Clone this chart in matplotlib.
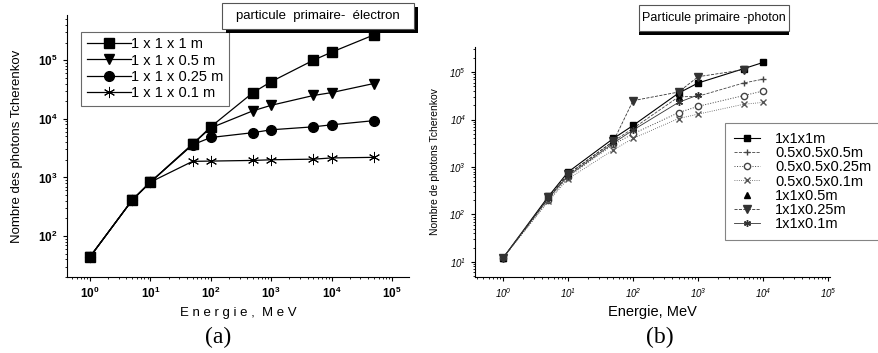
import matplotlib.pyplot as plt
from matplotlib.patches import Rectangle
from matplotlib.ticker import LogLocator, NullFormatter

plt.rcParams["font.family"] = ["Liberation Sans", "DejaVu Sans"]
plt.rcParams["mathtext.fontset"] = "custom"
plt.rcParams["mathtext.rm"] = "Liberation Sans"
plt.rcParams["mathtext.it"] = "Liberation Sans:italic"
plt.rcParams["mathtext.bf"] = "Liberation Sans:bold"

# (a) primary particle: electron
energy_a = [1, 5, 10, 50, 100, 500, 1000, 5000, 10000, 50000]
e_1x1x1 = [44, 410, 830, 3700, 7300, 28000, 43000, 100000, 137000, 270000]
e_1x1x05 = [44, 410, 830, 3700, 7000, 13700, 17000, 25000, 28000, 40000]
e_1x1x025 = [44, 410, 830, 3600, 4800, 5800, 6500, 7300, 7900, 9300]
e_1x1x01 = [44, 410, 830, 1880, 1900, 1950, 2000, 2050, 2150, 2200]

# (b) primary particle: photon
energy_b = [1, 5, 10, 50, 100, 500, 1000, 5000, 10000]
p_1x1x1 = [12, 240, 780, 4000, 7500, 36000, 59000, 118000, 160000]
p_05x05x05 = [12, 220, 700, 3500, 6500, 30000, 31000, 59000, 71000]
p_05x05x025 = [12, 200, 620, 3000, 5000, 14000, 19000, 32000, 40000]
p_05x05x01 = [12, 190, 560, 2300, 4000, 10500, 13000, 21000, 23000]
p_1x1x05 = [12, 230, 740, 3700, 7000, 30000]
p_1x1x025 = [12, 230, 700, 3500, 25000, 38000, 80000, 112000]
p_1x1x01 = [12, 220, 650, 3200, 6000, 23000, 33000]

fig = plt.figure(figsize=(8.79, 3.53), dpi=100)


def style_axis(ax, size):
    ax.set_xscale("log")
    ax.set_yscale("log")
    for side in ("top", "right"):
        ax.spines[side].set_visible(False)
    ax.tick_params(which="major", direction="out", length=3, width=0.8,
                   labelsize=size)
    ax.tick_params(which="minor", direction="out", length=1.6, width=0.6)
    ax.xaxis.set_major_locator(LogLocator(base=10, numticks=10))
    ax.xaxis.set_minor_locator(LogLocator(base=10, subs=range(2, 10), numticks=12))
    ax.yaxis.set_minor_locator(LogLocator(base=10, subs=range(2, 10), numticks=12))
    ax.xaxis.set_minor_formatter(NullFormatter())
    ax.yaxis.set_minor_formatter(NullFormatter())


# ---- panel (a)
ax1 = fig.add_axes([0.0762, 0.2153, 0.389, 0.742])
ax1.plot(energy_a, e_1x1x1, "-", color="black", lw=0.9, marker="s", ms=7, label="1 x 1 x 1 m")
ax1.plot(energy_a, e_1x1x05, "-", color="black", lw=0.9, marker="v", ms=7.5, label="1 x 1 x 0.5 m")
ax1.plot(energy_a, e_1x1x025, "-", color="black", lw=0.9, marker="o", ms=7, label="1 x 1 x 0.25 m")
ax1.plot(energy_a, e_1x1x01, "-", color="black", lw=0.9, marker=(6, 2, 0), ms=8, mew=0.7,
         label="1 x 1 x 0.1 m")
ax1.set_xlim(10 ** -0.38, 10 ** 5.28)
ax1.set_ylim(20, 10 ** 5.77)
style_axis(ax1, 8.5)
for lab in ax1.get_xticklabels() + ax1.get_yticklabels():
    lab.set_fontweight("bold")
ax1.set_xlabel("E n e r g i e ,  M e V", fontsize=9.5, labelpad=4)
ax1.set_ylabel("Nombre des photons Tcherenkov", fontsize=9.5, labelpad=11)
leg1 = ax1.legend(loc="upper left", bbox_to_anchor=(0.02, 0.965), fontsize=10.5,
                  frameon=True, fancybox=False, edgecolor="#444444",
                  handlelength=3.0, borderpad=0.4, labelspacing=0.15, handletextpad=0.0)
leg1.get_frame().set_linewidth(0.8)

# ---- panel (b)
ax2 = fig.add_axes([0.5404, 0.2153, 0.404, 0.6516])
ax2.plot(energy_b, p_1x1x1, "-", color="black", lw=0.8, marker="s", ms=5, label="1x1x1m")
ax2.plot(energy_b, p_05x05x05, "--", color="#444444", lw=0.6, marker="+", ms=5, label="0.5x0.5x0.5m")
ax2.plot(energy_b, p_05x05x025, ":", color="#444444", lw=0.7, marker="o", ms=4.5, mfc="white",
         label="0.5x0.5x0.25m")
ax2.plot(energy_b, p_05x05x01, ":", color="#555555", lw=0.6, marker="x", ms=4.5, label="0.5x0.5x0.1m")
ax2.plot(energy_b[:len(p_1x1x05)], p_1x1x05, linestyle="none", color="black", marker="^", ms=4.5,
         label="1x1x0.5m")
ax2.plot(energy_b[:len(p_1x1x025)], p_1x1x025, "--", color="#333333", lw=0.6, marker="v", ms=5.5,
         label="1x1x0.25m")
ax2.plot(energy_b[:len(p_1x1x01)], p_1x1x01, "-", color="#333333", lw=0.6, marker=(6, 2, 0), ms=5,
         label="1x1x0.1m")
ax2.set_xlim(10 ** -0.43, 10 ** 5.03)
ax2.set_ylim(10 ** 0.68, 10 ** 5.53)
style_axis(ax2, 7)
for lab in ax2.get_xticklabels() + ax2.get_yticklabels():
    lab.set_fontstyle("italic")
ax2.set_xlabel("Energie, MeV", fontsize=10.5, labelpad=4)
ax2.set_ylabel("Nombre de photons Tcherenkov", fontsize=7.5, labelpad=7)
leg2 = ax2.legend(loc="upper left", bbox_to_anchor=(0.705, 0.67), fontsize=10.5,
                  frameon=True, fancybox=False, edgecolor="#666666",
                  handlelength=1.8, borderpad=0.6, labelspacing=0.02, handletextpad=1.0,
                  borderaxespad=0.0)
leg2.get_frame().set_linewidth(0.8)

# ---- title boxes with shadows
W, H = 879.0, 353.0


def title_box(x0, y0, x1, y1, text, size, right_shadow):
    sx = 0.005 if right_shadow else 0.0
    fig.patches.append(Rectangle((x0 / W + sx, 1 - (y1 + 4) / H), (x1 - x0) / W, (y1 - y0) / H,
                                 transform=fig.transFigure, facecolor="black", edgecolor="none"))
    fig.patches.append(Rectangle((x0 / W, 1 - y1 / H), (x1 - x0) / W, (y1 - y0) / H,
                                 transform=fig.transFigure, facecolor="white", edgecolor="#555555",
                                 linewidth=0.8))
    fig.text((x0 + x1) / 2 / W, 1 - (y0 + y1) / 2 / H, text, ha="center", va="center", fontsize=size)


title_box(222, 3, 414, 29, "particule  primaire-  électron", 9.5, True)
title_box(639, 5, 789, 31, "Particule primaire -photon", 9, False)

fig.text(218 / W, 1 - 337 / H, "(a)", ha="center", va="center", fontsize=17, family="Liberation Serif")
fig.text(660 / W, 1 - 337 / H, "(b)", ha="center", va="center", fontsize=17, family="Liberation Serif")

fig.savefig("out.png", dpi=100)
